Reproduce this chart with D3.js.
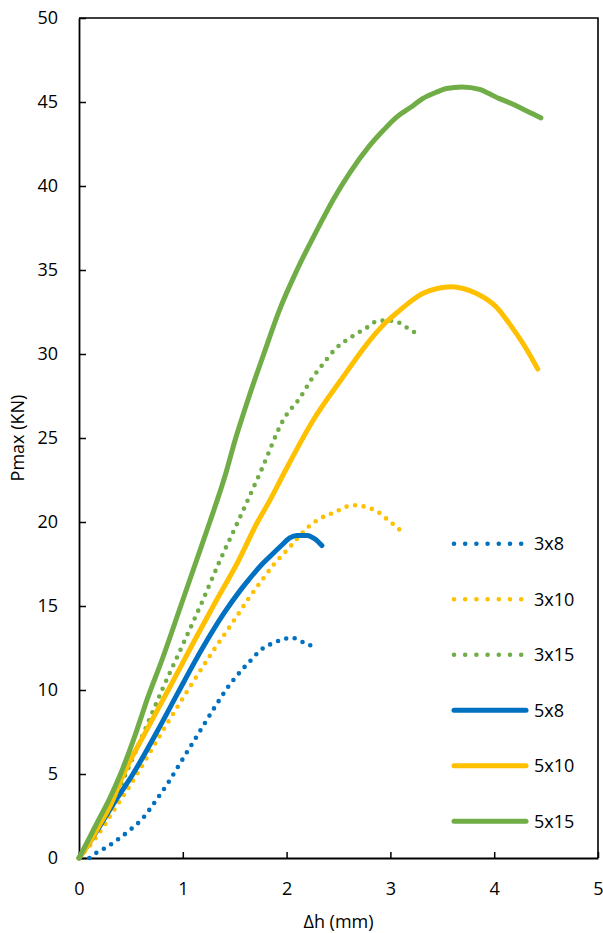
<!DOCTYPE html>
<html>
<head>
<meta charset="utf-8">
<script src="https://cdn.jsdelivr.net/npm/d3@7"></script>
<style>
  html, body { margin: 0; padding: 0; background: #fff; }
  svg { display: block; }
  text { font-family: "Open Sans", "Liberation Sans", sans-serif; fill: #000; }
</style>
</head>
<body>
<svg id="chart" width="603" height="933"></svg>
<script>
// ---- data ----
const seriesNames = ["3x8", "3x10", "3x15", "5x8", "5x10", "5x15"];
const seriesColors = ["#0070C0", "#FFC000", "#70AD47", "#0070C0", "#FFC000", "#70AD47"];
const seriesDotted = [true, true, true, false, false, false];

const s3x8 = [[0.1,0],[0.18,0.36],[0.27,0.65],[0.35,1.0],[0.49,1.66],[0.62,2.4],[0.71,3.15],[0.85,4.4],[1.0,5.9],[1.15,7.4],[1.3,8.9],[1.45,10.3],[1.57,11.2],[1.66,11.8],[1.72,12.2],[1.8,12.6],[1.88,12.8],[1.95,13.0],[2.06,13.1],[2.13,12.9],[2.22,12.7],[2.27,12.4]];
const s3x10 = [[0,0],[0.15,1.1],[0.3,2.5],[0.56,5],[0.8,7.5],[1.05,10],[1.3,12.4],[1.5,14.2],[1.64,15.5],[1.77,16.6],[1.88,17.5],[2.0,18.3],[2.1,19.0],[2.19,19.6],[2.32,20.2],[2.47,20.6],[2.57,20.9],[2.66,21.0],[2.76,20.9],[2.88,20.6],[2.98,20.1],[3.06,19.7],[3.13,19.3]];
const s3x15 = [[0,0],[0.1,0.9],[0.2,1.9],[0.3,3.0],[0.45,5],[0.62,7.4],[0.8,10],[1.0,12.7],[1.19,15.3],[1.35,17.6],[1.53,20],[1.75,23],[1.98,26.2],[2.13,27.4],[2.24,28.5],[2.35,29.4],[2.47,30.3],[2.62,31.0],[2.78,31.6],[2.85,31.9],[2.97,32.0],[3.07,31.9],[3.15,31.6],[3.23,31.3]];
const s5x8 = [[0,0],[0.1,0.9],[0.2,1.9],[0.35,3.4],[0.52,5],[0.75,7.5],[0.95,9.8],[1.2,12.6],[1.4,14.6],[1.55,15.9],[1.64,16.6],[1.75,17.4],[1.84,17.95],[1.95,18.6],[2.03,19.05],[2.1,19.2],[2.2,19.2],[2.27,19.0],[2.34,18.6]];
const s5x10 = [[0,0],[0.1,0.9],[0.2,2.0],[0.3,3.1],[0.43,5],[0.65,7.6],[0.86,10],[1.1,12.8],[1.32,15.3],[1.52,17.5],[1.72,20],[1.84,21.3],[2.0,23.2],[2.25,26],[2.54,28.6],[2.8,30.8],[2.96,31.9],[3.09,32.6],[3.21,33.2],[3.31,33.6],[3.45,33.9],[3.59,34.0],[3.7,33.9],[3.83,33.6],[4.02,32.8],[4.17,31.6],[4.31,30.3],[4.42,29.1]];
const s5x15 = [[0,0],[0.1,1.2],[0.2,2.4],[0.3,3.6],[0.4,5],[0.54,7.3],[0.66,9.5],[0.8,11.8],[0.98,15],[1.12,17.5],[1.26,20],[1.4,22.6],[1.51,25],[1.64,27.5],[1.78,30],[1.93,32.6],[2.1,35],[2.32,37.7],[2.45,39.2],[2.61,40.8],[2.8,42.4],[2.93,43.3],[3.06,44.1],[3.2,44.7],[3.31,45.2],[3.45,45.6],[3.54,45.8],[3.69,45.9],[3.86,45.75],[3.95,45.5],[4.05,45.2],[4.17,44.9],[4.27,44.6],[4.37,44.3],[4.45,44.05]];
const seriesData = [s3x8, s3x10, s3x15, s5x8, s5x10, s5x15];

const xTicks = [0, 1, 2, 3, 4, 5];
const yTicks = [0, 5, 10, 15, 20, 25, 30, 35, 40, 45, 50];
const xTitle = "Δh (mm)";
const yTitle = "Pmax (KN)";

// ---- layout ----
const svg = d3.select("#chart");
const mLeft = 79, mRight = 598, mTop = 18, mBottom = 858;
const x = d3.scaleLinear().domain([0, 5]).range([mLeft, mRight]);
const y = d3.scaleLinear().domain([0, 50]).range([mBottom, mTop]);

// frame (top & right)
svg.append("path")
  .attr("d", `M${mLeft},${mTop}H${mRight}V${mBottom}`)
  .attr("fill", "none").attr("stroke", "#000").attr("stroke-width", 1.6);

// axes
const fmt = d3.format("d");
const xAxis = svg.append("g").attr("transform", `translate(0,${mBottom})`)
  .call(d3.axisBottom(x).tickValues(xTicks).tickFormat(fmt).tickSizeInner(-6).tickSizeOuter(0).tickPadding(24));
const yAxis = svg.append("g").attr("transform", `translate(${mLeft},0)`)
  .call(d3.axisLeft(y).tickValues(yTicks).tickFormat(fmt).tickSizeInner(-7).tickSizeOuter(0).tickPadding(21));
[xAxis, yAxis].forEach(g => {
  g.select(".domain").attr("stroke", "#000").attr("stroke-width", 1.8);
  g.selectAll(".tick line").attr("stroke", "#000").attr("stroke-width", 1.5);
  g.selectAll(".tick text").attr("font-size", 18).attr("font-family", "'Open Sans', sans-serif").attr("fill", "#000");
});

// titles
svg.append("text").attr("x", (mLeft + mRight) / 2).attr("y", 928)
  .attr("text-anchor", "middle").attr("font-size", 18).text(xTitle);
svg.append("text").attr("transform", `translate(24,${(mTop + mBottom) / 2}) rotate(-90)`)
  .attr("text-anchor", "middle").attr("font-size", 18).text(yTitle);

// series
const line = d3.line().x(d => x(d[0])).y(d => y(d[1])).curve(d3.curveMonotoneX);
seriesData.forEach((data, i) => {
  const p = svg.append("path").datum(data)
    .attr("d", line)
    .attr("fill", "none")
    .attr("stroke", seriesColors[i])
    .attr("stroke-linecap", "round")
    .attr("stroke-linejoin", "round");
  if (seriesDotted[i]) {
    p.attr("stroke-width", 4.6).attr("stroke-dasharray", "0 8.6");
  } else {
    p.attr("stroke-width", 5);
  }
});

// legend
const legendY = d3.scaleBand().domain(seriesNames).range([516, 849]);
const lg = svg.append("g");
seriesNames.forEach((name, i) => {
  const cy = legendY(name) + legendY.bandwidth() / 2;
  const l = lg.append("line")
    .attr("x1", 454).attr("x2", 526).attr("y1", cy).attr("y2", cy)
    .attr("stroke", seriesColors[i])
    .attr("stroke-linecap", "round");
  if (seriesDotted[i]) l.attr("stroke-width", 4.6).attr("stroke-dasharray", "0 11.2");
  else l.attr("stroke-width", 5);
  lg.append("text").attr("x", 534).attr("y", cy).attr("dy", "0.35em")
    .attr("font-size", 18).text(name);
});
</script>
</body>
</html>
